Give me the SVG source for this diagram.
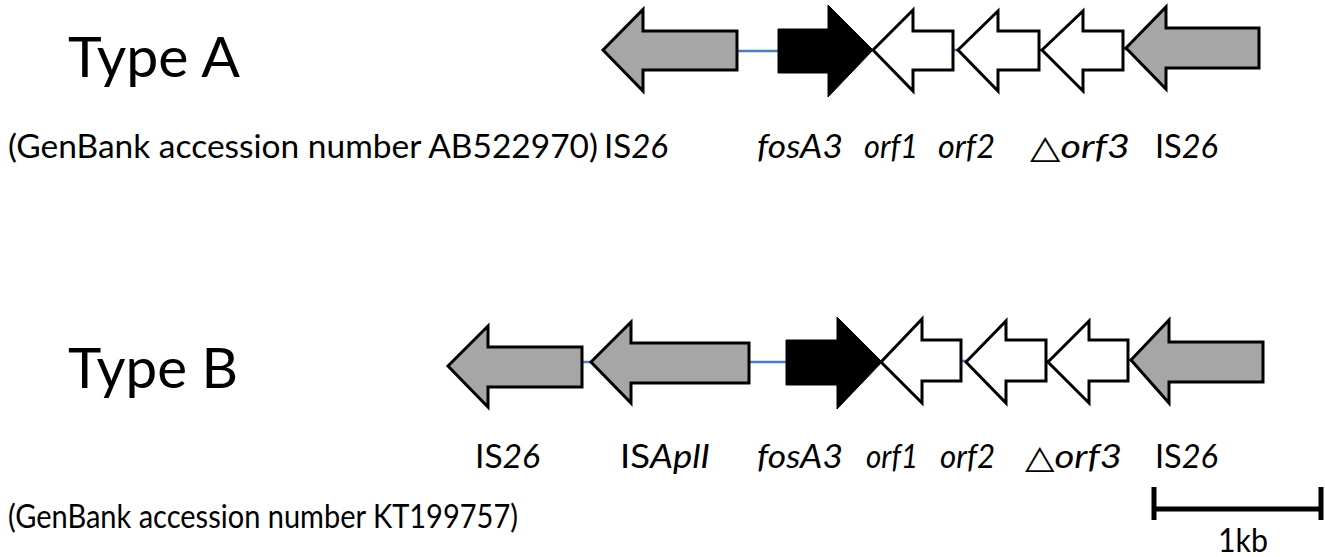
<svg xmlns="http://www.w3.org/2000/svg" width="1325" height="557" viewBox="0 0 1325 557">
<style>
.g{fill:#a6a6a6;stroke:#000;stroke-width:3;stroke-linejoin:miter}
.w{fill:#fff;stroke:#000;stroke-width:3}
.b{fill:#000;stroke:#000;stroke-width:1}
.ln{stroke:#4a7ebb;stroke-width:2.5;fill:none}
.t{font-family:Lato,"Open Sans","DejaVu Sans",sans-serif;fill:#000}
.big{font-size:56px}
.lab{font-size:32.5px}
.i{font-style:italic}
</style>
<rect width="1325" height="557" fill="#fff"/>
<g id="connectors">
<line class="ln" x1="737" y1="51" x2="779" y2="51"/>
<line class="ln" x1="952" y1="50" x2="959" y2="50"/>
<line class="ln" x1="1038" y1="50" x2="1043" y2="50"/>
<line class="ln" x1="1122" y1="49" x2="1127" y2="49"/>
<line class="ln" x1="582" y1="362" x2="592" y2="362"/>
<line class="ln" x1="749" y1="362" x2="787" y2="362"/>
<line class="ln" x1="960" y1="361" x2="967" y2="361"/>
<line class="ln" x1="1045" y1="361" x2="1049" y2="361"/>
<line class="ln" x1="1127" y1="360" x2="1132" y2="360"/>
</g>
<g id="typeA-label"><text class="t big" x="68" y="77" textLength="172" lengthAdjust="spacingAndGlyphs">Type A</text></g>
<g id="typeA-acc"><text class="t lab" x="8" y="158" textLength="590" lengthAdjust="spacingAndGlyphs">(GenBank accession number AB522970)</text></g>
<g id="A-IS26-left">
<path class="g" d="M603,50 L643,9.5 L643,31 L737,31 L737,70 L643,70 L643,91 Z"/>
<text class="t lab" x="604" y="158" textLength="64" lengthAdjust="spacingAndGlyphs">IS<tspan class="i">26</tspan></text>
</g>
<g id="A-fosA3">
<path class="b" d="M778,29 L828,29 L828,5 L873,50 L828,97 L828,73 L778,73 Z"/>
<text class="t lab i" x="757" y="158" textLength="86" lengthAdjust="spacingAndGlyphs">fosA3</text>
</g>
<g id="A-orf1">
<path class="w" d="M873,50 L913,10 L913,31 L953,31 L953,70 L913,70 L913,91 Z"/>
<text class="t lab i" x="864" y="158" textLength="54" lengthAdjust="spacingAndGlyphs">orf1</text>
</g>
<g id="A-orf2">
<path class="w" d="M958,50 L998,11 L998,31 L1039,31 L1039,70 L998,70 L998,91 Z"/>
<text class="t lab i" x="938" y="158" textLength="57" lengthAdjust="spacingAndGlyphs">orf2</text>
</g>
<g id="A-orf3">
<path class="w" d="M1042,50 L1083,11 L1083,31 L1123,31 L1123,70 L1083,70 L1083,91 Z"/>
<text class="t lab" x="1030" y="158" textLength="100" lengthAdjust="spacingAndGlyphs">△<tspan class="i">orf3</tspan></text>
</g>
<g id="A-IS26-right">
<path class="g" d="M1126,48 L1166,7 L1166,28 L1259,28 L1259,68 L1166,68 L1166,89 Z"/>
<text class="t lab" x="1155" y="158" textLength="63" lengthAdjust="spacingAndGlyphs">IS<tspan class="i">26</tspan></text>
</g>
<g id="typeB-label"><text class="t big" x="68" y="388" textLength="170" lengthAdjust="spacingAndGlyphs">Type B</text></g>
<g id="typeB-acc"><text class="t lab" x="8" y="528" textLength="510" lengthAdjust="spacingAndGlyphs">(GenBank accession number KT199757)</text></g>
<g id="B-IS26-left">
<path class="g" d="M448,366 L488,326 L488,347 L582,347 L582,387 L488,387 L488,407 Z"/>
<text class="t lab" x="475" y="468" textLength="65" lengthAdjust="spacingAndGlyphs">IS<tspan class="i">26</tspan></text>
</g>
<g id="B-ISAplI">
<path class="g" d="M591,362 L631,322 L631,343 L749,343 L749,383 L631,383 L631,403 Z"/>
<text class="t lab" x="620" y="468" textLength="90" lengthAdjust="spacingAndGlyphs">IS<tspan class="i">AplI</tspan></text>
</g>
<g id="B-fosA3">
<path class="b" d="M786,340 L837,340 L837,317 L882,362 L837,409 L837,385 L786,385 Z"/>
<text class="t lab i" x="757" y="468" textLength="86" lengthAdjust="spacingAndGlyphs">fosA3</text>
</g>
<g id="B-orf1">
<path class="w" d="M881,362 L922,319 L922,340 L961,340 L961,381 L922,381 L922,403 Z"/>
<text class="t lab i" x="866" y="468" textLength="52" lengthAdjust="spacingAndGlyphs">orf1</text>
</g>
<g id="B-orf2">
<path class="w" d="M966,362 L1006,321 L1006,340 L1046,340 L1046,381 L1006,381 L1006,403 Z"/>
<text class="t lab i" x="940" y="468" textLength="55" lengthAdjust="spacingAndGlyphs">orf2</text>
</g>
<g id="B-orf3">
<path class="w" d="M1048,362 L1089,321 L1089,340 L1128,340 L1128,381 L1089,381 L1089,403 Z"/>
<text class="t lab" x="1025" y="468" textLength="97" lengthAdjust="spacingAndGlyphs">△<tspan class="i">orf3</tspan></text>
</g>
<g id="B-IS26-right">
<path class="g" d="M1131,360 L1169,320 L1169,342 L1263,342 L1263,382 L1169,382 L1169,403 Z"/>
<text class="t lab" x="1155" y="468" textLength="63" lengthAdjust="spacingAndGlyphs">IS<tspan class="i">26</tspan></text>
</g>
<g id="scale-bar">
<line x1="1153" y1="509" x2="1322" y2="509" stroke="#000" stroke-width="5"/>
<line x1="1154" y1="487" x2="1154" y2="520" stroke="#000" stroke-width="5"/>
<line x1="1321" y1="487" x2="1321" y2="520" stroke="#000" stroke-width="5"/>
<text class="t lab" x="1218" y="552" textLength="50" lengthAdjust="spacingAndGlyphs">1kb</text>
</g>
</svg>
